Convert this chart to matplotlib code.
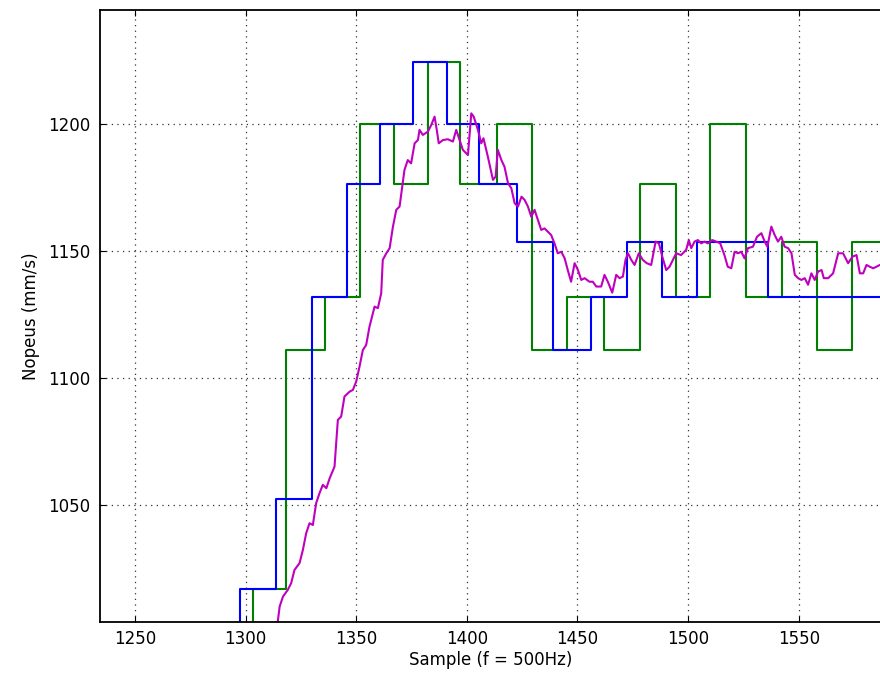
import matplotlib
matplotlib.use("Agg")
import matplotlib.pyplot as plt

# Quantised speed estimates (step signals): change points and levels
blue_x = [1280, 1297.6, 1313.6, 1330.0, 1345.8, 1360.9, 1375.6, 1391.0, 1405.7,
          1422.6, 1439.0, 1456.1, 1472.4, 1488.4, 1504.0, 1536.3, 1600]
blue_y = [967.7, 1016.9, 1052.6, 1132.1, 1176.5, 1200.0, 1224.5, 1200.0, 1176.5,
          1153.8, 1111.1, 1132.1, 1153.8, 1132.1, 1153.8, 1132.1, 1132.1]

green_x = [1280, 1303.3, 1318.4, 1336.1, 1351.5, 1366.9, 1382.4, 1397.0, 1413.7,
           1429.4, 1445.3, 1462.2, 1478.3, 1494.3, 1510.1, 1526.2, 1542.3, 1558.2,
           1574.1, 1600]
green_y = [967.7, 1016.9, 1111.1, 1132.1, 1200.0, 1176.5, 1224.5, 1176.5, 1200.0,
           1111.1, 1132.1, 1111.1, 1176.5, 1132.1, 1200.0, 1132.1, 1153.8, 1111.1,
           1153.8, 1153.8]

# Continuous (filtered) speed signal
mag_x = [1312.0, 1314.1, 1315.4, 1316.9, 1319.1, 1320.6, 1322.1, 1324.4, 1325.9,
         1327.4, 1328.9, 1330.4, 1331.9, 1333.4, 1334.9, 1336.5, 1338.0, 1340.2,
         1341.7, 1343.2, 1344.7, 1347.0, 1348.5, 1350.0, 1351.5, 1353.0, 1354.5,
         1356.0, 1358.3, 1359.8, 1361.3, 1362.0, 1363.6, 1365.1, 1366.6, 1368.1,
         1369.6, 1370.8, 1371.8, 1373.3, 1374.8, 1376.4, 1377.9, 1378.6, 1380.1,
         1382.4, 1383.9, 1385.4, 1386.4, 1387.3, 1389.2, 1391.4, 1393.7, 1395.2,
         1396.7, 1398.2, 1400.5, 1402.0, 1403.1, 1405.0, 1406.5, 1407.5, 1409.5,
         1411.8, 1413.0, 1414.0, 1415.6, 1417.0, 1418.6, 1420.1, 1421.6, 1423.1,
         1424.7, 1426.1, 1427.6, 1429.1, 1430.6, 1432.1, 1433.6, 1435.1, 1436.6,
         1438.1, 1439.6, 1441.1, 1442.7, 1444.2, 1445.6, 1447.1, 1448.7, 1450.2,
         1451.7, 1453.2, 1455.4, 1456.9, 1458.5, 1460.7, 1462.2, 1463.7, 1465.7,
         1467.5, 1469.0, 1470.5, 1471.7, 1472.8, 1474.3, 1475.8, 1477.7, 1479.5,
         1481.3, 1483.3, 1485.3, 1486.8, 1488.3, 1490.1, 1491.6, 1493.1, 1494.6,
         1496.8, 1499.1, 1500.3, 1501.4, 1502.9, 1504.4, 1505.9, 1507.4, 1508.9,
         1510.9, 1512.7, 1514.5, 1516.4, 1517.9, 1519.5, 1521.0, 1522.5, 1524.0,
         1525.5, 1527.0, 1529.3, 1531.1, 1533.1, 1534.6, 1535.8, 1537.6, 1539.1,
         1540.6, 1542.1, 1543.6, 1545.2, 1546.7, 1548.2, 1549.7, 1551.2, 1552.7,
         1554.2, 1555.7, 1557.2, 1558.7, 1560.3, 1561.3, 1563.3, 1565.5, 1567.8,
         1570.0, 1572.3, 1574.3, 1576.1, 1577.6, 1579.1, 1580.6, 1582.1, 1583.6,
         1585.1, 1586.6, 1588.0]
mag_y = [995.0, 1001.0, 1010.1, 1014.0, 1016.7, 1019.3, 1024.5, 1027.2, 1032.4,
         1039.0, 1042.9, 1042.2, 1050.8, 1054.7, 1058.0, 1056.7, 1060.6, 1065.2,
         1083.6, 1084.9, 1092.8, 1094.7, 1095.4, 1098.7, 1104.6, 1111.1, 1113.1,
         1120.3, 1128.2, 1127.6, 1133.5, 1146.6, 1149.2, 1151.2, 1159.7, 1166.3,
         1167.6, 1175.4, 1182.0, 1185.9, 1184.6, 1192.5, 1193.8, 1197.8, 1195.8,
         1197.1, 1199.7, 1203.0, 1197.8, 1192.5, 1193.8, 1194.1, 1193.2, 1197.8,
         1193.8, 1189.9, 1187.9, 1204.3, 1203.0, 1197.8, 1192.5, 1194.5, 1187.2,
         1178.1, 1179.4, 1189.9, 1185.9, 1183.3, 1176.8, 1174.8, 1168.9, 1167.6,
         1171.5, 1170.2, 1167.6, 1163.6, 1166.3, 1162.3, 1158.4, 1159.0, 1157.7,
         1156.4, 1153.1, 1149.2, 1149.8, 1147.2, 1142.6, 1138.0, 1145.3, 1142.6,
         1138.7, 1139.4, 1138.0, 1138.0, 1136.1, 1136.1, 1140.7, 1138.0, 1133.7,
         1140.7, 1139.4, 1140.0, 1146.6, 1149.2, 1146.6, 1144.6, 1149.2, 1146.6,
         1145.3, 1144.6, 1153.8, 1153.1, 1147.9, 1142.6, 1143.9, 1146.6, 1149.2,
         1148.5, 1150.5, 1154.4, 1151.2, 1153.8, 1154.4, 1153.1, 1153.8, 1153.1,
         1154.4, 1153.8, 1153.1, 1148.5, 1143.9, 1143.3, 1149.8, 1149.2, 1149.8,
         1147.2, 1151.2, 1151.8, 1155.7, 1157.1, 1153.8, 1151.8, 1159.7, 1156.4,
         1153.8, 1155.7, 1151.8, 1151.2, 1149.2, 1140.7, 1139.4, 1138.7, 1139.4,
         1136.8, 1141.3, 1138.7, 1142.0, 1142.6, 1139.4, 1139.4, 1141.3, 1149.2,
         1149.2, 1145.3, 1147.9, 1148.5, 1141.3, 1141.3, 1144.6, 1143.9, 1143.3,
         1143.9, 1144.6, 1144.0]

x_ticks = [1250, 1300, 1350, 1400, 1450, 1500, 1550]
y_ticks = [1050, 1100, 1150, 1200]

plt.rcParams['font.family'] = ['DejaVu Sans']
fig = plt.figure(figsize=(8.8, 6.75), dpi=100)
ax = fig.add_axes([0.1136, 0.0785, 0.8874, 0.9067])

ax.step(green_x, green_y, where='post', color=(0.0, 0.5, 0.0), lw=1.5)
ax.step(blue_x, blue_y, where='post', color=(0.0, 0.0, 1.0), lw=1.5)
ax.plot(mag_x, mag_y, color=(0.75, 0.0, 0.75), lw=1.5)

ax.set_xlim(1234.2, 1587.1)
ax.set_ylim(1004.0, 1245.0)
ax.set_xticks(x_ticks)
ax.set_yticks(y_ticks)
ax.tick_params(direction='in', length=4, width=0.8, labelsize=12,
               top=True, right=False)
ax.tick_params(axis='x', pad=6)
ax.tick_params(axis='y', pad=7)
ax.grid(True, color='#333333', linestyle=(0, (1, 3.5)), lw=0.9)
ax.set_axisbelow(True)
ax.spines['right'].set_visible(False)
for s in ('left', 'top', 'bottom'):
    ax.spines[s].set_linewidth(1.3)

ax.set_xlabel('Sample (f = 500Hz)', fontsize=12, labelpad=2)
ax.set_ylabel('Nopeus (mm/s)', fontsize=12, labelpad=6)

fig.savefig('out.png', dpi=100)
